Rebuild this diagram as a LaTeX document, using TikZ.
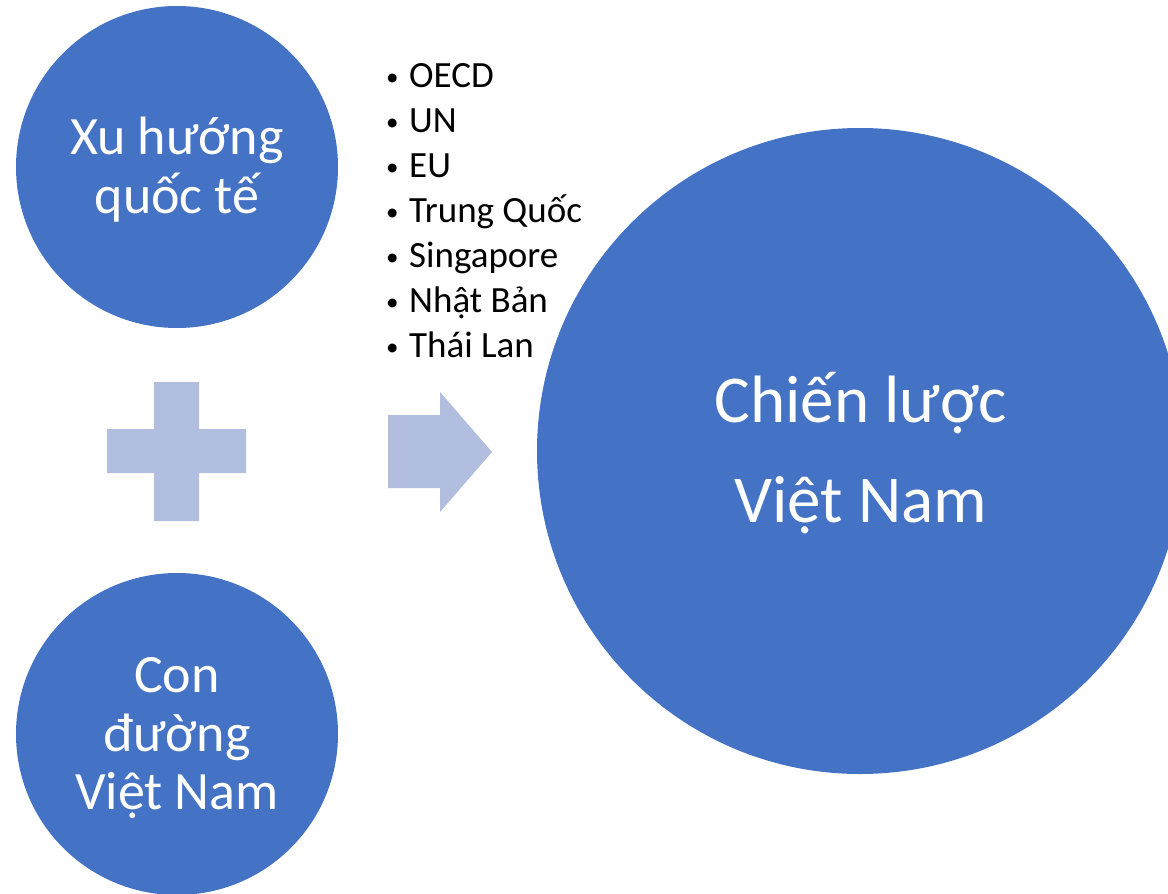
\documentclass[tikz,border=0pt]{standalone}
\usepackage{fontspec}
\setmainfont{Carlito}
\definecolor{circblue}{RGB}{68,114,196}
\definecolor{lightblue}{RGB}{177,190,224}
\tikzset{
  bigcirc/.style={circle, fill=circblue, draw=none, inner sep=0pt},
  circtext/.style={text=white, anchor=base, inner sep=0pt, font=\fontsize{54}{59}\selectfont},
  bigtext/.style={text=white, anchor=base, inner sep=0pt, font=\fontsize{67}{100}\selectfont},
  bullettext/.style={text=black, anchor=base west, inner sep=0pt, font=\fontsize{37}{45}\selectfont},
  bulletdot/.style={text=black, anchor=base west, inner sep=0pt, font=\fontsize{25}{30}\selectfont},
  shapefill/.style={fill=lightblue, draw=none}
}
\begin{document}
\begin{tikzpicture}[x=1pt,y=-1pt]
\useasboundingbox (0,0) rectangle (1168,894);
\clip (0,0) rectangle (1168,894);
% circles
\node[bigcirc, minimum size=322pt] (c1) at (177,167) {};
\node[bigcirc, minimum size=322pt] (c2) at (177,734) {};
\node[bigcirc, minimum size=646pt] (c3) at (860,451) {};
% circle texts
\node[circtext] (t1a) at (177,154) {Xu hướng};
\node[circtext] (t1b) at (177,213) {quốc tế};
\node[circtext] (t2a) at (177,692) {Con};
\node[circtext] (t2b) at (177,751) {đường};
\node[circtext] (t2c) at (177,809) {Việt Nam};
\node[bigtext] (t3a) at (861,422) {Chiến lược};
\node[bigtext] (t3b) at (861,522) {Việt Nam};
% plus sign
\fill[shapefill] (154,382) -- (199,382) -- (199,429) -- (246,429) -- (246,473) -- (199,473)
  -- (199,521) -- (154,521) -- (154,473) -- (107,473) -- (107,429) -- (154,429) -- cycle;
% arrow
\fill[shapefill] (388,415) -- (440,415) -- (440,392) -- (492,452) -- (440,512) -- (440,488) -- (388,488) -- cycle;
% bullet list
\foreach \txt [count=\i] in {OECD,UN,EU,Trung Quốc,Singapore,Nhật Bản,Thái Lan}{
  \node[bulletdot] (b\i) at (386,{85+45*(\i-1)}) {•};
  \node[bullettext] (l\i) at (409,{87+45*(\i-1)}) {\txt};
}
\end{tikzpicture}
\end{document}
